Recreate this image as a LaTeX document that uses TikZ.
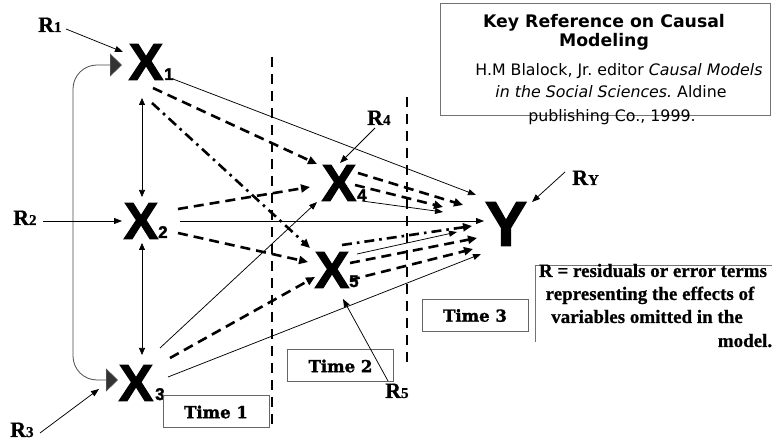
\documentclass[tikz,border=0pt]{standalone}
\usepackage{fontspec}
\setmainfont{Liberation Serif}[BoldFeatures={FakeBold=0.6}]
\newfontfamily\xfont[FakeBold=2]{Liberation Sans}
\newfontfamily\kfont{DejaVu Sans}
\newfontfamily\tfont[FakeBold=1.5]{DejaVu Serif}
\usetikzlibrary{arrows.meta,calc}
\frenchspacing
\begin{document}
\begin{tikzpicture}[x=1pt,y=-1pt,
  xl/.style={inner sep=0pt, font=\xfont\bfseries\fontsize{52}{52}\selectfont},
  yl/.style={inner sep=0pt, font=\xfont\bfseries\fontsize{63}{63}\selectfont},
  xs/.style={inner sep=0pt, anchor=base west, font=\xfont\bfseries\fontsize{17}{17}\selectfont},
  rl/.style={inner sep=0pt, anchor=base west, font=\bfseries\fontsize{22}{22}\selectfont},
  tb/.style={draw=black!60, line width=1pt, minimum width=106pt, minimum height=32pt, inner sep=0pt, font=\tfont\bfseries\fontsize{16.5}{16.5}\selectfont},
  sol/.style={line width=0.75pt, -{Triangle[length=8pt,width=6pt]}},
  dsh/.style={line width=2.6pt, dash pattern=on 10pt off 6pt, -{Triangle[length=9pt,width=8pt]}},
  dd/.style={line width=2.6pt, dash pattern=on 10pt off 5pt on 2.6pt off 5pt, -{Triangle[length=9pt,width=8pt]}},
  tl/.style={line width=2.8pt, dash pattern=on 10pt off 7pt},
  dbl/.style={line width=0.75pt, {Triangle[length=7pt,width=6pt]}-{Triangle[length=7pt,width=6pt]}},
  ktxt/.style={inner sep=0pt, anchor=base, font=\kfont\fontsize{15.8}{18}\selectfont},
  ktit/.style={inner sep=0pt, anchor=base, font=\kfont\bfseries\fontsize{17.3}{19}\selectfont},
  ntxt/.style={inner sep=0pt, anchor=base, font=\bfseries\fontsize{19}{22}\selectfont},
  boxs/.style={draw=black!55, line width=0.8pt, inner sep=0pt}
]
\useasboundingbox (0,0) rectangle (772,446);
\fill[white] (0,0) rectangle (772,446);

% time lines
\coordinate (L1a) at (272,57);
\coordinate (L1b) at (272,426);
\coordinate (L2a) at (407,97);
\coordinate (L2b) at (407,365);
\draw[tl] (L1a) -- (L1b);
\draw[tl] (L2a) -- (L2b);

% variables
\node[xl] (X1) at (146,62) {X};
\node[xs] (X1s) at (164,80) {1};
\node[xl] (X2) at (141,221) {X};
\node[xs] (X2s) at (158,238) {2};
\node[xl] (X3) at (136,383) {X};
\node[xs] (X3s) at (155,400) {3};
\node[xl] (X4) at (339,183) {X};
\node[xs] (X4s) at (357,201) {4};
\node[xl] (X5) at (332,270) {X};
\node[xs] (X5s) at (349,287) {5};
\node[yl] (Y) at (506,224) {Y};

% residuals
\node[rl] (R1) at (38,32) {R{\fontsize{15}{15}\selectfont 1}};
\node[rl] (R2) at (13,225) {R{\fontsize{15}{15}\selectfont 2}};
\node[rl] (R3) at (10,437) {R{\fontsize{15}{15}\selectfont 3}};
\node[rl] (R4) at (367,125) {R{\fontsize{15}{15}\selectfont 4}};
\node[rl] (R5) at (385,398) {R{\fontsize{15}{15}\selectfont 5}};
\node[rl] (RY) at (572,185) {R{\fontsize{15}{15}\selectfont Y}};

% time boxes
\node[tb] (T1) at (216,412) {Time 1};
\node[tb] (T2) at (340.5,366) {Time 2};
\node[tb] (T3) at (475,315.5) {Time 3};

% key reference box
\node[boxs, minimum width=330pt, minimum height=112pt] (kbox) at (605,59) {};
\node[ktit] (kt1) at (604,28) {Key Reference on Causal};
\node[ktit] (kt2) at (604,47) {Modeling};
\node[ktxt] (kb1) at (619,76) {H.M Blalock, Jr. editor \textit{Causal Models}};
\node[ktxt] (kb2) at (611,98) {\textit{in the Social Sciences.} Aldine};
\node[ktxt] (kb3) at (612,122) {publishing Co., 1999.};

% note box (top and left edges visible)
\coordinate (nb1) at (535,342);
\coordinate (nb2) at (535,265);
\coordinate (nb3) at (775,265);
\draw[draw=black!55, line width=0.8pt] (nb1) -- (nb2) -- (nb3);
\node[ntxt] (n1) at (653,277) {R = residuals or error terms};
\node[ntxt] (n2) at (650,300) {representing the effects of};
\node[ntxt] (n3) at (647,323) {variables omitted in the};
\node[ntxt] (n4) at (745,347) {model.};

% curved connector X1 <-> X3
\coordinate (c1) at ($(X1)+(-24,3)$);
\coordinate (c3) at ($(X3)+(-18,-3)$);
\draw[line width=0.8pt, draw=black!70, rounded corners=24pt,
  {Triangle[length=12pt,width=23pt,fill=black!80]}-{Triangle[length=12pt,width=23pt,fill=black!80]}]
  (c1) -| (73,220) |- (c3);

% correlations among exogenous
\draw[dbl] ($(X1)+(-4,36)$) -- ($(X2)+(1,-24)$);
\draw[dbl] ($(X2)+(1,22)$) -- ($(X3)+(6,-28)$);

% paths
\draw[sol] ($(X1)+(27,17)$) -- ($(Y)+(-30,-29)$);
\draw[dsh] ($(X1)+(7,26)$) -- ($(X4)+(-22,-19)$);
\draw[dd]  ($(X1)+(6,41)$) -- ($(X5)+(-22,-22)$);
\draw[dsh] ($(X2)+(37,-12)$) -- ($(X4)+(-29,4)$);
\draw[sol] ($(X2)+(39,0)$) -- ($(Y)+(-22,-3)$);
\draw[dsh] ($(X2)+(37,12)$) -- ($(X5)+(-24,-8)$);
\draw[sol] ($(X3)+(24,-35)$) -- ($(X4)+(-22,19)$);
\draw[dsh] ($(X3)+(34,-25)$) -- ($(X5)+(-17,7)$);
\draw[sol] ($(X3)+(32,-6)$) -- ($(Y)+(-25,30)$);
\draw[dsh] ($(X4)+(19,-10)$) -- ($(Y)+(-43,-19)$);
\draw[dsh] ($(X4)+(16,2)$) -- ($(Y)+(-63,-17)$);
\draw[sol] ($(X4)+(23,18)$) -- ($(Y)+(-63,-12)$);
\draw[dd]  ($(X5)+(10,-25)$) -- ($(Y)+(-34,2)$);
\draw[sol] ($(X5)+(25,-16)$) -- ($(Y)+(-49,8)$);
\draw[dsh] ($(X5)+(18,-7)$) -- ($(Y)+(-29,14)$);
\draw[dsh] ($(X5)+(18,10)$) -- ($(Y)+(-33,25)$);

% residual arrows
\draw[sol] ($(R1.base west)+(28,-3)$) -- ($(X1)+(-23,-10)$);
\draw[sol] ($(R2.base west)+(30,-4)$) -- ($(X2)+(-19,0)$);
\draw[sol] ($(R3.base west)+(30,-4)$) -- ($(X3)+(-37,6)$);
\draw[sol] ($(R4.base west)+(8,3)$) -- ($(X4)+(1,-20)$);
\draw[sol] ($(R5.base west)+(3,-17)$) -- ($(X5)+(11,29)$);
\draw[sol] ($(RY.base west)+(-7,-13)$) -- ($(Y)+(26,-22)$);
\end{tikzpicture}
\end{document}
